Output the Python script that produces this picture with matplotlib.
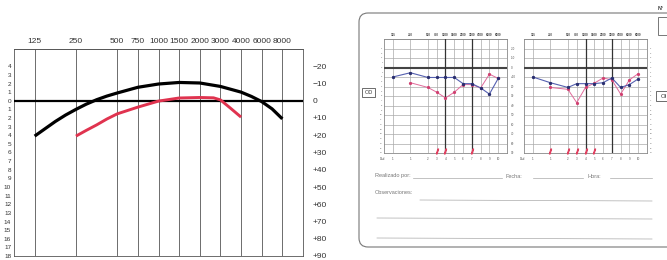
import numpy as np
import matplotlib
matplotlib.use('Agg')
import matplotlib.pyplot as plt
from matplotlib.patches import FancyBboxPatch, Rectangle
from matplotlib.ticker import FixedLocator
from matplotlib.transforms import blended_transform_factory

plt.rcParams['font.family'] = ['Liberation Sans', 'DejaVu Sans']

# ---------------- data ----------------
freq_ticks = [125, 250, 500, 750, 1000, 1500, 2000, 3000, 4000, 6000, 8000]
freq_labels = ['125', '250', '500', '750', '1000', '1500', '2000', '3000', '4000', '6000', '8000']
col_pos = [0, 2, 4, 5, 6, 7, 8, 9, 10, 11, 12]

black_freq = [125, 149, 177, 210, 250, 297, 354, 420, 500, 750, 1000, 1500, 2000, 3000, 4000,
              4900, 6000, 6930, 8000]
black_db = [20.5, 16.2, 12, 8.3, 5, 2, -0.6, -2.7, -4.5, -7.8, -9.7, -10.6, -10.3, -8.3, -5,
            -2.5, 0.5, 4.7, 10.5]

red_freq = [250, 297, 354, 420, 500, 750, 1000, 1500, 2000, 2620, 3000, 3450, 4000]
red_db = [20.5, 17.2, 14, 10.6, 7.6, 3.7, 0.2, -1.6, -1.9, -1.7, -0.5, 4.3, 9.5]

left_tick_db = list(range(-20, 95, 5))
left_tick_labels = [str(abs(v) // 5) for v in left_tick_db]
right_tick_db = list(range(-20, 95, 10))
right_tick_labels = ['\u221220', '\u221210', '0', '+10', '+20', '+30', '+40', '+50',
                     '+60', '+70', '+80', '+90']
small_right_labels = ['-20', '-10', '0', '+10', '20', '30', '40', '50', '60', '70', '80', '90']
small_bottom_labels = ['1', '1', '2', '3', '4', '5', '6', '7', '8', '9', '10']

# form audiograms
od_blue = [10, 5.5, 10.5, 10.5, 10.5, 10.5, 17, 17, 21.5, 28, 11.5]
od_pink_freq = [250, 500, 750, 1000, 1500, 2000, 3000, 4000, 6000, 8000]
od_pink = [16, 21, 26, 32, 26, 18, 18, 21.5, 7, 11.5]
oi_blue = [10, 16, 21, 17, 17, 17, 16, 11, 21, 18, 12]
oi_pink_freq = [250, 500, 750, 1000, 1500, 2000, 3000, 4000, 6000, 8000]
oi_pink = [21, 23, 37, 21, 16.5, 11, 13, 28, 13, 6.5]
od_marks = [750, 1000, 3000]
oi_marks = [250, 500, 750, 1000, 1500]

# ---------------- scale ----------------
LF = np.log2(np.array(freq_ticks, float))
CP = np.array(col_pos, float)


def fwd(f):
    f = np.asarray(f, float)
    lf = np.log2(np.clip(f, 1e-9, None))
    out = np.interp(lf, LF, CP)
    out = np.where(lf < LF[0], CP[0] + 2 * (lf - LF[0]), out)
    out = np.where(lf > LF[-1], CP[-1] + 2 * (lf - LF[-1]), out)
    return out


def inv(p):
    p = np.asarray(p, float)
    lf = np.interp(p, CP, LF)
    lf = np.where(p < CP[0], LF[0] + (p - CP[0]) / 2, lf)
    lf = np.where(p > CP[-1], LF[-1] + (p - CP[-1]) / 2, lf)
    return 2 ** lf


W, H = 667, 260
fig = plt.figure(figsize=(W / 100, H / 100), dpi=100)


def rect(x0, y0, x1, y1):
    return [x0 / W, 1 - y1 / H, (x1 - x0) / W, (y1 - y0) / H]


# background axes in pixel coords (form decoration)
bg = fig.add_axes([0, 0, 1, 1])
bg.set_xlim(0, W)
bg.set_ylim(H, 0)
bg.axis('off')

# ---------------- main audiogram ----------------
ax = fig.add_axes(rect(14, 49, 303, 256))
ax.set_xscale('function', functions=(fwd, inv))
ax.set_xlim(125 / np.sqrt(2), 8000 * np.sqrt(2))
ax.set_ylim(90, -30)
ax.set_xticks(freq_ticks)
ax.set_xticklabels(freq_labels, fontsize=6, color='#333')
ax.xaxis.tick_top()
ax.tick_params(axis='x', length=0, pad=3)
ax.xaxis.set_minor_locator(FixedLocator([]))
ax.set_yticks(left_tick_db)
ax.set_yticklabels(left_tick_labels, fontsize=4.6, color='#333')
ax.tick_params(axis='y', length=0, pad=2)
ax.yaxis.set_minor_locator(FixedLocator(list(range(-30, 91, 10))))
ax.tick_params(axis='y', which='minor', length=0)
ax.grid(which='major', axis='x', color='#555', lw=0.6)
ax.grid(which='minor', axis='y', color='#555', lw=0.6)
for s in ax.spines.values():
    s.set_color('#555')
    s.set_linewidth(0.6)
ax.axhline(0, color='black', lw=1.6, zorder=3)
ax.plot(black_freq, black_db, color='black', lw=2.3, solid_capstyle='butt',
        solid_joinstyle='round', zorder=4)
ax.plot(red_freq, red_db, color='#e0334f', lw=2.1, solid_capstyle='butt',
        solid_joinstyle='round', zorder=4)
sec = ax.secondary_yaxis('right')
sec.set_yticks(right_tick_db)
sec.set_yticklabels(right_tick_labels, fontsize=6, color='#333')
sec.tick_params(length=0, pad=7)
sec.spines['right'].set_visible(False)

# ---------------- form (photo) ----------------
form = FancyBboxPatch((359, 13), 330, 234, boxstyle='round,pad=0,rounding_size=9',
                      fc='white', ec='#777', lw=0.8)
bg.add_patch(form)
bg.text(660, 8, 'N\u00ba', fontsize=3.8, color='#333', ha='center', va='center', weight='bold')
bg.add_patch(Rectangle((658, 17), 20, 18, fc='white', ec='#777', lw=0.7))
bg.add_patch(Rectangle((362, 87.5), 13, 9.5, fc='white', ec='#555', lw=0.6))
bg.text(368.5, 92.3, 'OD', fontsize=4, color='#333', ha='center', va='center')
bg.add_patch(Rectangle((656, 91), 15, 10, fc='white', ec='#555', lw=0.6))
bg.text(661, 96, 'OI', fontsize=4.3, color='#333', ha='left', va='center')

tc = '#777'
bg.text(375, 176, 'Realizado por:', fontsize=4, color=tc, va='center')
bg.plot([413, 502], [178, 178], color='#aaa', lw=0.5)
bg.text(506, 176, 'Fecha:', fontsize=4, color=tc, va='center')
bg.plot([533, 583], [178, 178], color='#aaa', lw=0.5)
bg.text(587, 176, 'Hora:', fontsize=4, color=tc, va='center')
bg.plot([610, 652], [178, 178], color='#aaa', lw=0.5)
bg.text(375, 193, 'Observaciones:', fontsize=4, color=tc, va='center')
bg.plot([420, 652], [200, 201], color='#aaa', lw=0.5)
bg.plot([377, 652], [218, 219], color='#aaa', lw=0.5)
bg.plot([377, 652], [238, 239], color='#aaa', lw=0.5)


def small_chart(box, blue, pink_f, pink, marks, left_lab, right_lab):
    a = fig.add_axes(rect(*box))
    a.set_xscale('function', functions=(fwd, inv))
    a.set_xlim(125 / np.sqrt(2), 8000 * np.sqrt(2))
    a.set_ylim(90, -30)
    a.set_xticks(freq_ticks)
    a.set_xticklabels(freq_labels, fontsize=2.2, color='#444', weight='bold')
    a.xaxis.tick_top()
    a.tick_params(axis='x', length=0, pad=1.5)
    a.xaxis.set_minor_locator(FixedLocator([]))
    a.set_yticks(list(range(-30, 91, 10)))
    a.set_yticklabels([])
    a.tick_params(axis='y', length=0)
    a.grid(axis='both', color='#aaa', lw=0.5)
    for s in a.spines.values():
        s.set_color('#888')
        s.set_linewidth(0.6)
    a.axhline(0, color='#444', lw=1.5, zorder=3)
    a.axvline(1000, color='#333', lw=0.9, zorder=3)
    a.axvline(3000, color='#333', lw=0.9, zorder=3)
    a.plot(pink_f, pink, color='#e06a9a', lw=0.7, marker='o', ms=1.3, mfc='#d04070',
           mec='#d04070', zorder=4)
    a.plot(freq_ticks, blue, color='#5560b0', lw=0.8, marker='o', ms=1.4, mfc='#2a2f70',
           mec='#2a2f70', zorder=5)
    a.plot(marks, [88] * len(marks), ls='none', marker='$/$', ms=3.5, color='#e04060',
           zorder=6, clip_on=False)
    if left_lab:
        sy = a.secondary_yaxis('left')
        sy.set_yticks(left_tick_db)
        sy.set_yticklabels(left_tick_labels, fontsize=1.6, color='#555')
        sy.tick_params(length=0, pad=1)
        sy.spines['left'].set_visible(False)
    if right_lab == 'db':
        sy = a.secondary_yaxis('right')
        sy.set_yticks(right_tick_db)
        sy.set_yticklabels(small_right_labels, fontsize=2.2, color='#555')
        sy.tick_params(length=0, pad=2.5)
        sy.spines['right'].set_visible(False)
    elif right_lab == 'num':
        sy = a.secondary_yaxis('right')
        sy.set_yticks(left_tick_db)
        sy.set_yticklabels(left_tick_labels, fontsize=1.6, color='#555')
        sy.tick_params(length=0, pad=2)
        sy.spines['right'].set_visible(False)
    tr = blended_transform_factory(a.transData, a.transAxes)
    for f, lab in zip(freq_ticks, small_bottom_labels):
        a.text(f, -0.055, lab, transform=tr, fontsize=2.2, color='#555',
               ha='center', va='center')
    a.text(-0.01, -0.055, 'Dsd', transform=a.transAxes, fontsize=2.2, color='#555',
           ha='center', va='center')
    return a


small_chart((384, 39, 507, 153), od_blue, od_pink_freq, od_pink, od_marks, True, 'db')
small_chart((524, 39, 647, 153), oi_blue, oi_pink_freq, oi_pink, oi_marks, False, 'num')

fig.savefig('out.png', dpi=100)
